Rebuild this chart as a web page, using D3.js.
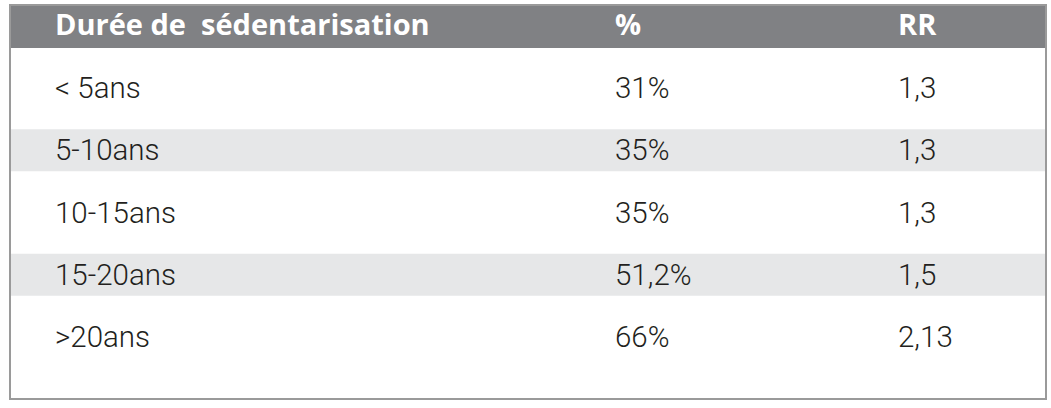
<!DOCTYPE html>
<html><head><meta charset="utf-8">
<script src="https://cdn.jsdelivr.net/npm/d3@7"></script>
<style>html,body{margin:0;padding:0;background:#fff;}</style>
</head><body>
<svg id="chart" width="1051" height="408"></svg>
<script>
const headers = ["Durée de\u00a0 sédentarisation", "%", "RR"];
const categories = ["< 5ans", "5-10ans", "10-15ans", "15-20ans", ">20ans"];
const percentLabels = ["31%", "35%", "35%", "51,2%", "66%"];
const rrLabels = ["1,3", "1,3", "1,3", "1,5", "2,13"];

const svg = d3.select("#chart");
const boxL = 10, boxR = 1046, boxT = 5, boxB = 399, headH = 43;
const colX = [55, 615, 898];

const y = d3.scaleBand().domain(categories).range([56.9, 368.1]);

svg.append("rect").attr("x", boxL).attr("y", boxT).attr("width", boxR-boxL).attr("height", boxB-boxT)
  .attr("fill", "#fff");

// stripes
svg.selectAll("rect.stripe").data(categories.filter((d,i)=>i%2===1)).join("rect")
  .attr("class","stripe")
  .attr("x", boxL).attr("width", boxR-boxL)
  .attr("y", d => y(d) + y.bandwidth()/2 - 21).attr("height", 42)
  .attr("fill", "#e6e7e8");

// header
svg.append("rect").attr("x", boxL).attr("y", boxT).attr("width", boxR-boxL).attr("height", headH)
  .attr("fill", "#808184");
svg.selectAll("text.head").data(headers).join("text")
  .attr("class","head")
  .attr("x", (d,i)=>colX[i]).attr("y", 35)
  .attr("fill", "#fff").attr("font-family", "'Open Sans',sans-serif")
  .attr("font-weight", 700).attr("font-size", 29)
  .text(d=>d);

// body
const rows = categories.map((c,i)=>[c, percentLabels[i], rrLabels[i]]);
const g = svg.selectAll("g.row").data(rows).join("g").attr("class","row")
  .attr("transform", (d,i)=>`translate(0,${y(categories[i]) + y.bandwidth()/2})`);
g.selectAll("text").data(d=>d).join("text")
  .attr("x", (d,i)=>colX[i]).attr("y", 10)
  .attr("fill", "#231f20").attr("font-family", "'Roboto','Lato',sans-serif")
  .attr("font-weight", 300).attr("font-size", 29.5)
  .text(d=>d);

// border
svg.append("rect").attr("x", boxL).attr("y", boxT).attr("width", boxR-boxL).attr("height", boxB-boxT)
  .attr("fill", "none").attr("stroke", "#9a9a9a").attr("stroke-width", 2);
</script>
</body></html>
